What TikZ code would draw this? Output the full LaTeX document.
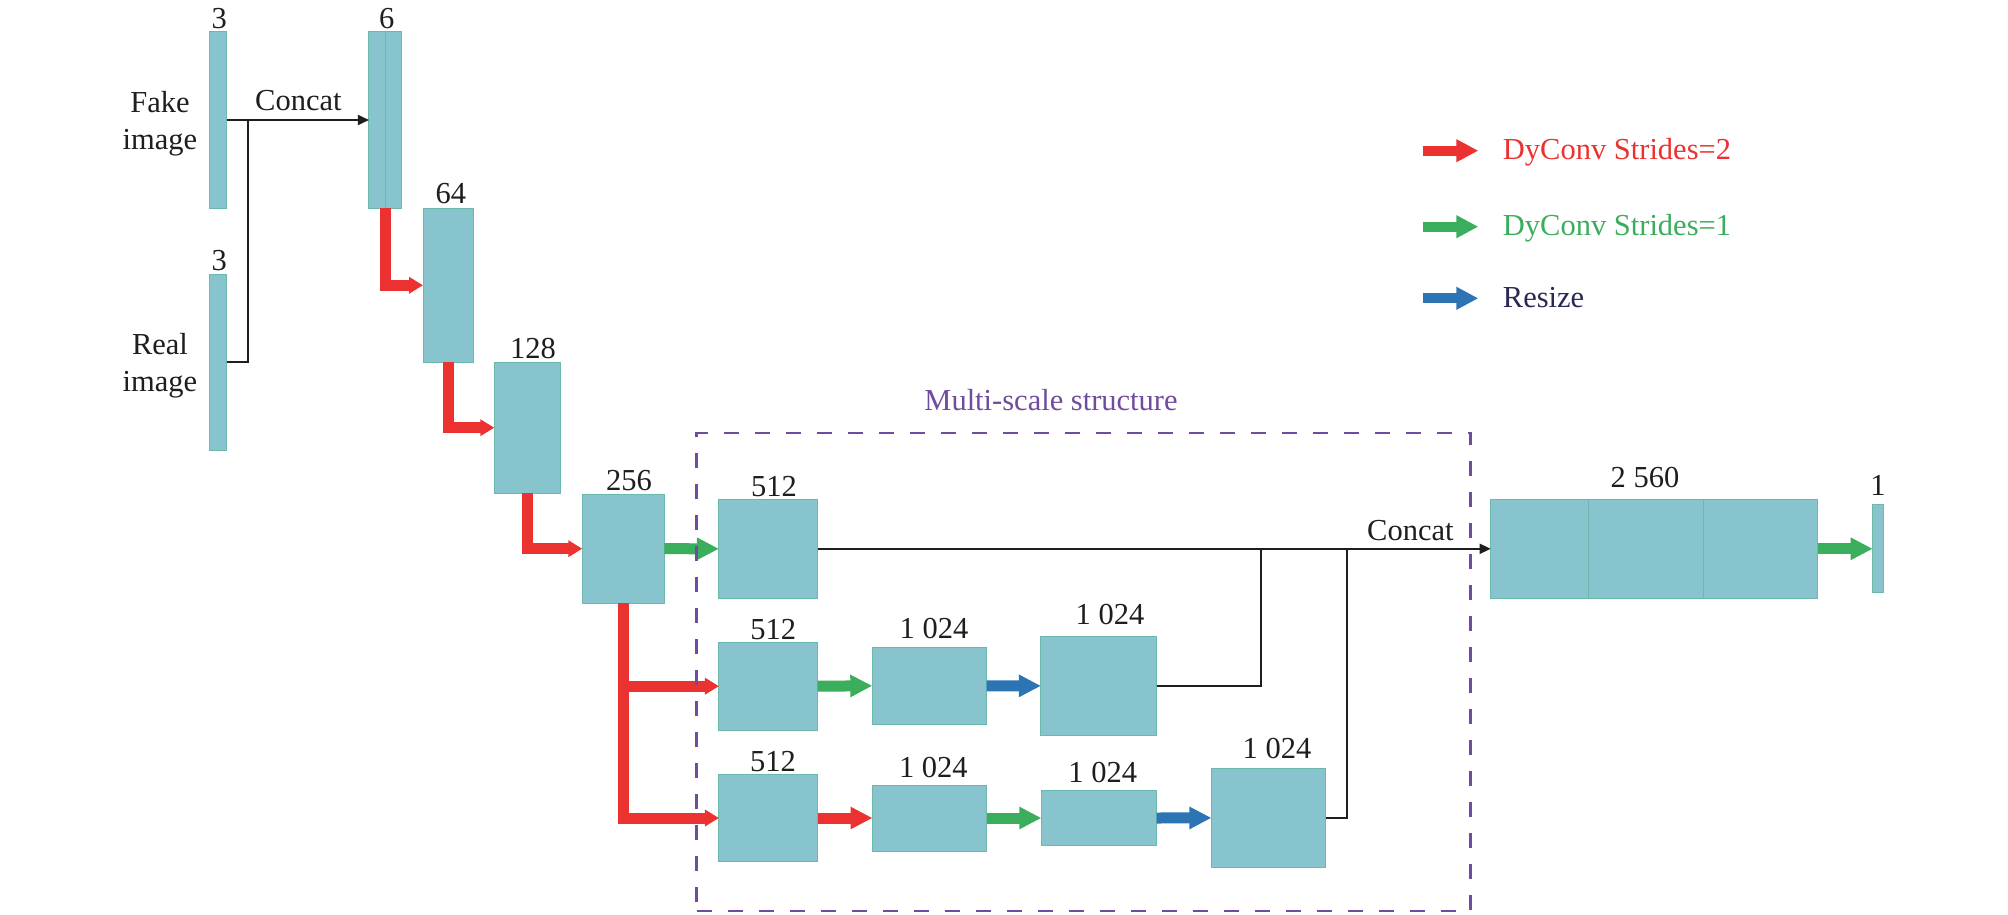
\documentclass[tikz,border=0pt]{standalone}
\usepackage{fontspec}
\setmainfont{Liberation Serif}
\usetikzlibrary{arrows.meta}
\definecolor{boxfill}{RGB}{136,196,206}
\definecolor{boxline}{RGB}{108,184,172}
\definecolor{cred}{RGB}{236,50,48}
\definecolor{cgreen}{RGB}{58,174,92}
\definecolor{cblue}{RGB}{44,116,180}
\definecolor{cpurple}{RGB}{112,76,160}
\definecolor{cnavy}{RGB}{40,40,84}
\definecolor{ctext}{RGB}{30,30,30}
\newcommand{\fsz}{\fontsize{30.5}{37}\selectfont}
\newcommand{\mybox}[5]{\node[box, minimum width=#4pt, minimum height=#5pt] (#1) at (#2,#3) {};}
\begin{document}
\begin{tikzpicture}[x=1pt,y=-1pt,
 box/.style={draw=boxline, fill=boxfill, line width=1pt, inner sep=0pt, outer sep=0pt},
 lbl/.style={font=\fsz, anchor=base, inner sep=0pt, text=ctext},
 fat/.style={line width=11pt, -{Triangle[length=22pt,width=21pt]}},
 legarrow/.style={line width=10pt, -{Triangle[length=22pt,width=21.5pt]}},
 lfat/.style={line width=11pt, line join=miter, cred, -{Triangle[length=14pt,width=16pt]}},
 thinline/.style={line width=1.8pt, ctext},
 tharrow/.style={thinline, -{Triangle[length=11pt,width=10pt]}},
]
\fill[white] (0,0) rectangle (2008,915);
\useasboundingbox (0,0) rectangle (2008,915);

% boxes
\mybox{fake}{218.3}{120}{16.7}{176}
\mybox{real}{218.3}{362}{16.7}{176}
\mybox{bar6}{385.3}{120}{32.7}{176}
\draw[boxline, line width=1pt] (bar6.north) -- (bar6.south);
\mybox{b64}{448}{285.3}{50}{154}
\mybox{b128}{527.5}{427.7}{66.4}{131.3}
\mybox{b256}{623.3}{548.7}{82}{109.3}
\mybox{r1a}{768.3}{548.8}{98.7}{99}
\mybox{r2a}{768.3}{686.2}{98.7}{87.7}
\mybox{r2b}{929.4}{685.8}{114.2}{77}
\mybox{r2c}{1098.8}{685.9}{115.7}{99.7}
\mybox{r3a}{768.3}{818}{98.7}{87.4}
\mybox{r3b}{929.6}{818}{114.2}{66}
\mybox{r3c}{1099}{818}{115.3}{55.4}
\mybox{r3d}{1268.6}{817.9}{114.3}{99.2}
\mybox{bigA}{1539.5}{548.8}{97.6}{99}
\mybox{bigB}{1645.8}{548.8}{115}{99}
\mybox{bigC}{1760.5}{548.8}{114.4}{99}
\mybox{out1}{1878}{548.8}{10.6}{87.7}

% labels
\node[lbl] (l3a) at (219.3,28.3) {3};
\node[lbl] (l3b) at (219.3,270) {3};
\node[lbl] (l6) at (386.7,28.3) {6};
\node[lbl] (l64) at (450.8,203.5) {64};
\node[lbl] (l128) at (533,358.3) {128};
\node[lbl] (l256) at (629,490) {256};
\node[lbl] (lr1a) at (774,496) {512};
\node[lbl] (lr2a) at (773.3,639) {512};
\node[lbl] (lr3a) at (773,771) {512};
\node[lbl] (lr2b) at (934,638) {1 024};
\node[lbl] (lr2c) at (1110,624.5) {1 024};
\node[lbl] (lr3b) at (933.4,777) {1 024};
\node[lbl] (lr3c) at (1102.7,782.7) {1 024};
\node[lbl] (lr3d) at (1277,758.3) {1 024};
\node[lbl] (lbig) at (1645,487.7) {2 560};
\node[lbl] (lout) at (1878,495) {1};

\node[font=\fsz, align=center, inner sep=0pt, text=ctext] (tfake) at (160,124) {Fake\\image};
\node[font=\fsz, align=center, inner sep=0pt, text=ctext] (treal) at (160,366) {Real\\image};
\node[lbl, anchor=base west] (c1) at (255,111) {Concat};
\node[lbl, anchor=base west] (c2) at (1367,540) {Concat};
\node[lbl, text=cpurple] (ms) at (1051,410.7) {Multi-scale structure};

% thin connectors
\coordinate (j1) at (247.7,120);
\coordinate (j2) at (1260.7,548.8);
\coordinate (j3) at (1346.7,548.8);
\draw[tharrow] (fake.east) -- (bar6.west);
\draw[thinline] (real.east) -| (j1);
\draw[tharrow] (r1a.east) -- (bigA.west);
\draw[thinline] (r2c.east) -| (j2);
\draw[thinline] (r3d.east) -| (j3);

% red L arrows
\draw[lfat] (bar6.south) |- (b64.west);
\draw[lfat] (b64.south) |- (b128.west);
\draw[lfat] (b128.south) |- (b256.west);
\draw[lfat] (b256.south) |- (r3a.west);
\draw[lfat] (b256.south |- r2a.west) -- (r2a.west);

% fat arrows
\draw[fat, cgreen] (b256.east) -- (r1a.west);
\draw[fat, cgreen] (r2a.east) -- (r2b.west);
\draw[fat, cblue] (r2b.east) -- (r2c.west);
\draw[fat, cred] (r3a.east) -- (r3b.west);
\draw[fat, cgreen] (r3b.east) -- (r3c.west);
\draw[fat, cblue] (r3c.east) -- (r3d.west);
\draw[fat, cgreen] (bigC.east) -- (out1.west);

% dashed multi-scale frame
\node[draw=cpurple, line width=2.5pt, dash pattern=on 15pt off 16pt, inner sep=0pt, outer sep=0pt, minimum width=774pt, minimum height=478pt] (msbox) at (1083.5,672) {};

% legend
\coordinate (lg1a) at (1422.7,150.7); \coordinate (lg1b) at (1478.3,150.7);
\coordinate (lg2a) at (1422.7,226.7); \coordinate (lg2b) at (1478.3,226.7);
\coordinate (lg3a) at (1422.7,298.3); \coordinate (lg3b) at (1478.3,298.3);
\draw[legarrow, cred] (lg1a) -- (lg1b);
\draw[legarrow, cgreen] (lg2a) -- (lg2b);
\draw[legarrow, cblue] (lg3a) -- (lg3b);
\node[lbl, anchor=base west, text=cred] (lt1) at (1502.7,159.3) {DyConv Strides=2};
\node[lbl, anchor=base west, text=cgreen] (lt2) at (1502.7,235.3) {DyConv Strides=1};
\node[lbl, anchor=base west, text=cnavy] (lt3) at (1502.7,307) {Resize};
\end{tikzpicture}
\end{document}
